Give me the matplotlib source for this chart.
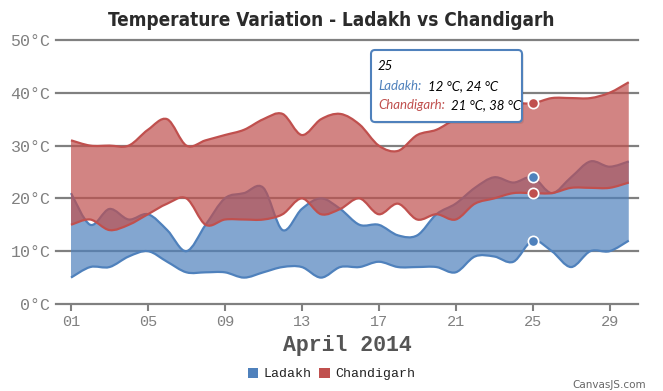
import matplotlib
matplotlib.use("Agg")
import matplotlib.pyplot as plt
from matplotlib import font_manager
from matplotlib.path import Path
from matplotlib.patches import PathPatch, Patch, FancyBboxPatch
from matplotlib.transforms import Affine2D

days = list(range(1, 31))
ladakh_low = [5, 7, 7, 9, 10, 8, 6, 6, 6, 5, 6, 7, 7, 5, 7,
              7, 8, 7, 7, 7, 6, 9, 9, 8, 12, 10, 7, 10, 10, 12]
ladakh_high = [21, 15, 18, 16, 17, 14, 10, 15, 20, 21, 22, 14, 18, 20, 18,
               15, 15, 13, 13, 17, 19, 22, 24, 23, 24, 21, 24, 27, 26, 27]
chd_low = [15, 16, 14, 15, 17, 19, 20, 15, 16, 16, 16, 17, 20, 17, 18,
           20, 17, 19, 16, 17, 16, 19, 20, 21, 21, 21, 22, 22, 22, 23]
chd_high = [31, 30, 30, 30, 33, 35, 30, 31, 32, 33, 35, 36, 32, 35, 36,
            34, 30, 29, 32, 33, 35, 36, 37, 38, 38, 39, 39, 39, 40, 42]
tick_days = [1, 5, 9, 13, 17, 21, 25, 29]
y_ticks = [0, 10, 20, 30, 40, 50]
hover_day = 25

BLUE = "#4F81BC"
RED = "#C0504E"
GRID = "#808080"
MONO = "Liberation Mono"


def spline(xs, ys):
    # catmull-rom style bezier segments through the points
    pts = list(zip(xs, ys))
    verts = [pts[0]]
    codes = [Path.MOVETO]
    n = len(pts)
    for i in range(n - 1):
        p0 = pts[i - 1] if i > 0 else pts[i]
        p1 = pts[i]
        p2 = pts[i + 1]
        p3 = pts[i + 2] if i + 2 < n else pts[i + 1]
        c1 = (p1[0] + (p2[0] - p0[0]) / 6, p1[1] + (p2[1] - p0[1]) / 6)
        c2 = (p2[0] - (p3[0] - p1[0]) / 6, p2[1] - (p3[1] - p1[1]) / 6)
        verts += [c1, c2, p2]
        codes += [Path.CURVE4] * 3
    return verts, codes


def band(ax, low, high, color, z):
    hv, hc = spline(days, high)
    lv, lc = spline(days[::-1], low[::-1])
    verts = hv + [lv[0]] + lv[1:] + [hv[0]]
    codes = hc + [Path.LINETO] + lc[1:] + [Path.CLOSEPOLY]
    ax.add_patch(PathPatch(Path(verts, codes), facecolor=color, alpha=0.7,
                           edgecolor="none", zorder=z))
    for arr in (high, low):
        v, c = spline(days, arr)
        ax.add_patch(PathPatch(Path(v, c), facecolor="none", edgecolor=color,
                               lw=1.6, zorder=z + 0.5))


# pick a narrow heavy face for the title if one is installed
title_font = {"family": "Roboto", "weight": "bold"}
for f in font_manager.fontManager.ttflist:
    if f.name in ("Liberation Sans Narrow",) and f.weight in (700, "bold"):
        title_font = {"family": f.name, "weight": "bold"}
        break
    if f.name == "DejaVu Sans" and f.stretch == "condensed" and f.weight in (700, "bold"):
        title_font = {"family": "DejaVu Sans", "weight": "bold", "stretch": "condensed"}

fig = plt.figure(figsize=(6.63, 3.91), dpi=100)
ax = fig.add_axes([56 / 663, 1 - 304 / 391, 582 / 663, 264 / 391])
ax.set_xlim(0.22, 30.48)
ax.set_ylim(0, 50)

for t in y_ticks:
    ax.axhline(t, color=GRID, lw=1.6, zorder=1, clip_on=False)

band(ax, ladakh_low, ladakh_high, BLUE, 2)
band(ax, chd_low, chd_high, RED, 3)

i = days.index(hover_day)
ax.scatter([hover_day] * 2, [ladakh_low[i], ladakh_high[i]], s=55, color=BLUE,
           edgecolor="white", linewidth=1.2, zorder=6)
ax.scatter([hover_day] * 2, [chd_low[i], chd_high[i]], s=55, color=RED,
           edgecolor="white", linewidth=1.2, zorder=6)

for s in ax.spines.values():
    s.set_visible(False)
ax.set_yticks(y_ticks)
ax.set_yticklabels([f"{t}°C" for t in y_ticks], family=MONO, fontsize=12, color=GRID)
ax.set_xticks(tick_days)
ax.set_xticklabels([f"{d:02d}" for d in tick_days], family=MONO, fontsize=11, color=GRID)
ax.tick_params(axis="y", length=0, pad=4)
ax.tick_params(axis="x", length=5, width=1.5, color=GRID, pad=3)

ax.set_xlabel("April 2014", family=MONO, fontsize=15.5, fontweight="bold",
              color="#555555", labelpad=4)

title = fig.text(331 / 663, 1 - 20 / 391, "Temperature Variation - Ladakh vs Chandigarh",
                 fontsize=20, color="#2b2b2b", ha="center", va="center", **title_font)
# size the title to the reference width (about 446 px)
r = fig.canvas.get_renderer()
w = title.get_window_extent(r).width
title.set_fontsize(min(24, 20 * 446 / w))

handles = [Patch(facecolor=BLUE, label="Ladakh"), Patch(facecolor=RED, label="Chandigarh")]
fig.legend(handles=handles, loc="center", bbox_to_anchor=(0.5, 1 - 374 / 391),
           ncol=2, frameon=False, prop={"family": MONO, "size": 9.5},
           handlelength=0.8, handleheight=0.8, handletextpad=0.4, columnspacing=0.6,
           labelcolor="#222222")

fig.text(646 / 663, 1 - 385 / 391, "CanvasJS.com", ha="right", va="center",
         fontsize=7.5, color="#666666", family="DejaVu Sans")

# tooltip, positioned in pixels
px = Affine2D().scale(1 / fig.dpi) + fig.dpi_scale_trans
H = 391
fig.patches.append(FancyBboxPatch((373, H - 124), 151, 72, boxstyle="round,pad=0,rounding_size=4",
                                  transform=px, facecolor="#000000", alpha=0.08,
                                  edgecolor="none", zorder=9))
fig.patches.append(FancyBboxPatch((371, H - 122), 151, 72, boxstyle="round,pad=0,rounding_size=4",
                                  transform=px, facecolor="white", edgecolor=BLUE,
                                  lw=1.5, zorder=10))
tip = dict(transform=px, family="Lato", style="italic", fontsize=9.5, va="center", zorder=11)
fig.text(378, H - 66, f"{hover_day}", color="black", **tip)
fig.text(378, H - 86, "Ladakh:", color=BLUE, **tip)
fig.text(428, H - 86, f"{ladakh_low[i]} °C, {ladakh_high[i]} °C", color="black", **tip)
fig.text(378, H - 105, "Chandigarh:", color=RED, **tip)
fig.text(451, H - 105, f"{chd_low[i]} °C, {chd_high[i]} °C", color="black", **tip)

fig.savefig("out.png", dpi=100)
